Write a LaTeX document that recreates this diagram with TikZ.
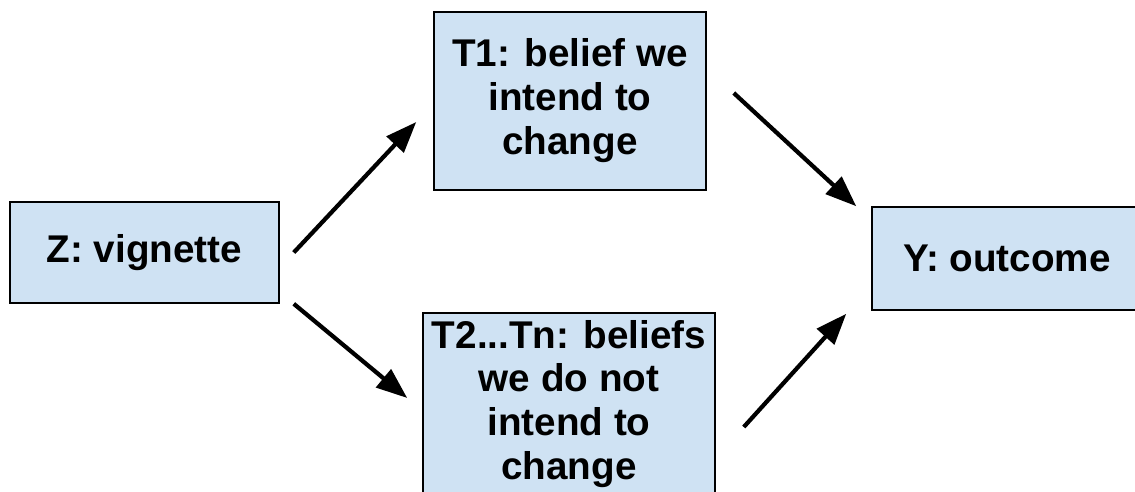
\documentclass[tikz,border=0pt]{standalone}
\usepackage{fontspec}
\setmainfont{Liberation Sans}
\usepackage{xcolor}
\usetikzlibrary{arrows.meta}
\definecolor{boxblue}{HTML}{CFE2F3}

\begin{document}
\begin{tikzpicture}[x=0.02cm,y=-0.02cm,
  box/.style={draw=black,line width=0.9pt,fill=boxblue,align=center,inner sep=0pt,
    font=\fontsize{22}{25}\selectfont\bfseries},
  causal/.style={line width=2.4pt,-{Triangle[length=0.62cm,width=0.46cm]}}]
\useasboundingbox (0,0) rectangle (1135,491);
\clip (0,0) rectangle (1135,491);
\node[box,minimum width=5.38cm,minimum height=2.02cm] (z) at (144.5,252.5) {Z: vignette};
\node[box,minimum width=5.44cm,minimum height=3.56cm] (t1) at (570,101) {T1: belief we\\intend to\\change};
\node[box,minimum width=5.84cm,minimum height=3.64cm] (t2) at (569,404) {T2...Tn: beliefs\\we do not\\intend to\\change};
\node[box,minimum width=5.40cm,minimum height=2.06cm] (y) at (1007,258.5) {Y: outcome};
\draw[causal] ([shift={(14,0)}]z.east) -- ([shift={(-17,21)}]t1.west);
\draw[causal] ([shift={(14,0)}]z.south east) -- ([shift={(-15,-6)}]t2.west);
\draw[causal] ([shift={(27,-8)}]t1.east) -- ([shift={(-15,0)}]y.north west);
\draw[causal] ([shift={(28,23)}]t2.east) -- ([shift={(-25,3)}]y.south west);
\end{tikzpicture}
\end{document}
